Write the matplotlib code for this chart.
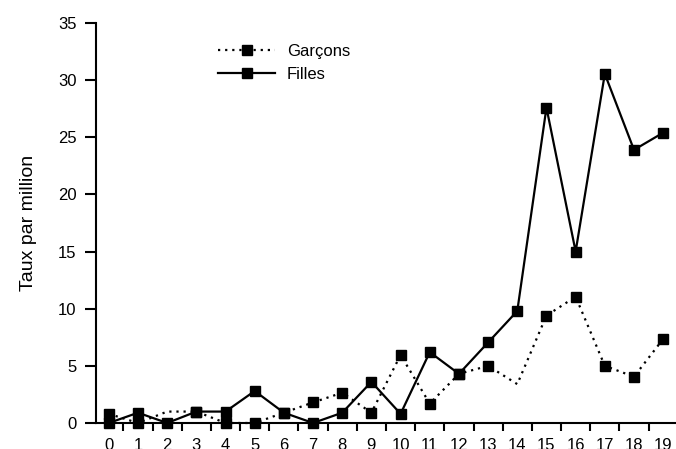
import matplotlib
matplotlib.use("Agg")
import matplotlib.pyplot as plt
import numpy as np

ages = list(range(20))
garcons = [0.8, 0, 1.0, 1.0, 0, 0, 0.9, 1.8, 2.65, 0.9,
           5.95, 1.7, 4.3, 5.0, 3.4, 9.4, 11.05, 5.0, 4.05, 7.35]
filles = [0, 0.9, 0, 1.0, 1.0, 2.8, 0.9, 0, 0.9, 3.6,
          0.8, 6.2, 4.3, 7.05, 9.8, 27.6, 15.0, 30.55, 23.9, 25.4]
# points where the boys' series has no marker in the source
garcons_no_marker = [2, 14]

plt.rcParams["font.family"] = ["Liberation Sans", "DejaVu Sans"]

fig = plt.figure(figsize=(6.76, 4.49), dpi=100)
ax = fig.add_axes([96 / 676, 26 / 449, 1 - 96 / 676, (423 - 23) / 449])

mk_g = [i for i in range(len(ages)) if i not in garcons_no_marker]
ax.plot(ages, garcons, color="black", lw=1.6, linestyle=(0, (1, 2.2)),
        marker="s", markersize=6.5, markevery=mk_g, clip_on=False,
        label="Garçons")
ax.plot(ages, filles, color="black", lw=1.6, marker="s", markersize=6.5,
        clip_on=False, label="Filles")

ax.set_xlim(-0.44, 19.44)
ax.set_ylim(0, 35)
ax.set_yticks(np.arange(0, 36, 5))

# labels under the points, tick marks between them
ax.set_xticks(ages)
ax.set_xticks(np.arange(0.5, 19, 1), minor=True)
ax.tick_params(axis="x", which="major", length=0, pad=11, labelsize=12)
ax.tick_params(axis="x", which="minor", length=6, width=1.5, direction="out")
ax.tick_params(axis="y", length=8, width=1.5, direction="out", pad=6,
               labelsize=12)

for s in ("top", "right"):
    ax.spines[s].set_visible(False)
for s in ("left", "bottom"):
    ax.spines[s].set_linewidth(1.5)

ax.set_ylabel("Taux par million", fontsize=14, labelpad=15)

ax.legend(loc="upper left", bbox_to_anchor=(0.185, 0.985), frameon=False,
          fontsize=12, handlelength=3.4, handletextpad=0.7,
          labelspacing=0.5)

fig.savefig("out.png", dpi=100, facecolor="white")
